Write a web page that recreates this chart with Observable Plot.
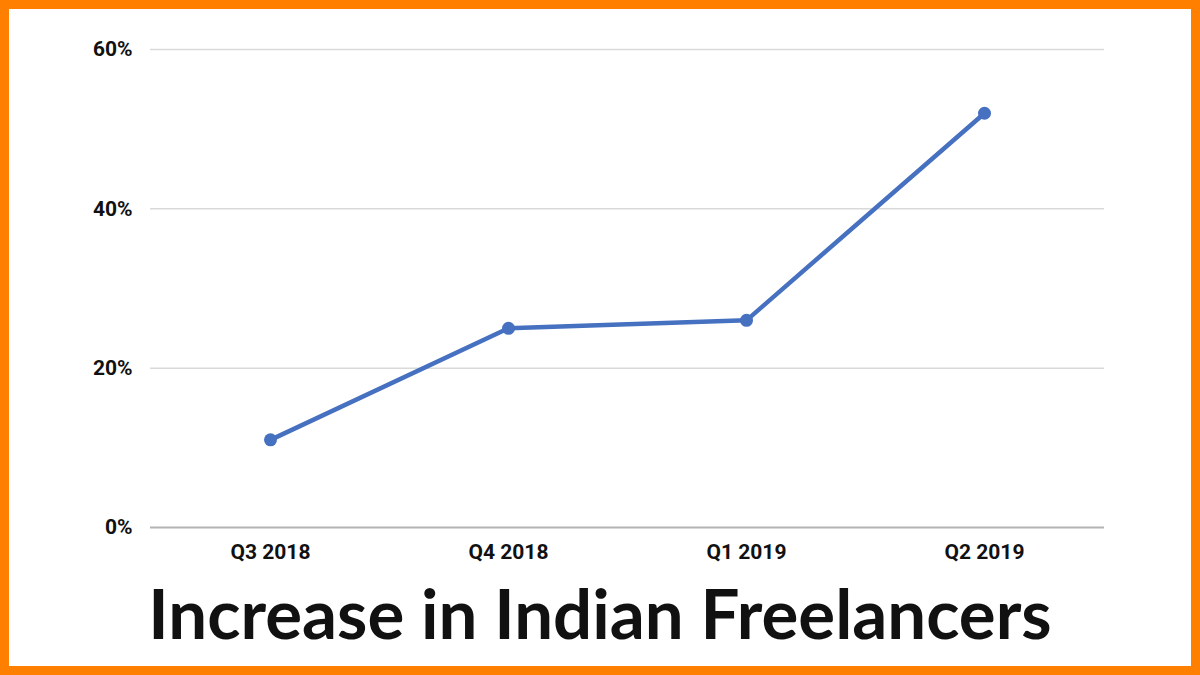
<!DOCTYPE html>
<html>
<head>
<meta charset="utf-8">
<script src="https://cdn.jsdelivr.net/npm/d3@7"></script>
<script src="https://cdn.jsdelivr.net/npm/@observablehq/plot@0.6"></script>
<style>
  html, body { margin: 0; padding: 0; background: #fff; }
  #frame {
    width: 1200px; height: 675px; box-sizing: border-box;
    border: 9px solid #FF7F00; background: #fff; position: relative; overflow: hidden;
  }
  #title {
    position: absolute; left: 0; right: 0; top: 564px; text-align: center;
    font-family: Lato, "Open Sans", sans-serif; font-weight: 700; font-size: 69px;
    color: #111; line-height: 80px; letter-spacing: 0px;
  }
  svg text { font-family: Roboto, "Noto Sans", sans-serif; }
</style>
</head>
<body>
<div id="frame">
  <div id="chart"></div>
  <div id="title">Increase in Indian Freelancers</div>
</div>
<script>
const quarters = ["Q3 2018", "Q4 2018", "Q1 2019", "Q2 2019"];
const growth = [11, 25, 26, 52];
const yTicks = [0, 20, 40, 60];

const data = quarters.map((q, i) => ({quarter: q, value: growth[i]}));

const plot = Plot.plot({
  width: 1182,
  height: 560,
  marginLeft: 141,
  marginRight: 87,
  marginTop: 40,
  marginBottom: 42,
  style: {background: "#fff", fontSize: "21px", color: "#111"},
  x: {domain: quarters, type: "point", padding: 0.5, label: null, tickSize: 0},
  y: {domain: [0, 60], ticks: yTicks, tickFormat: d => d + "%", label: null, tickSize: 0},
  marks: [
    Plot.gridY(yTicks.filter(t => t > 0), {stroke: "#d9d9d9", strokeOpacity: 1, strokeWidth: 1.5}),
    Plot.ruleY([0], {stroke: "#b3b3b3", strokeWidth: 2}),
    Plot.axisX({tickSize: 0, tickPadding: 17, fontWeight: 700, fontSize: 21}),
    Plot.axisY({ticks: yTicks, tickFormat: d => d + "%", tickSize: 0, tickPadding: 18, fontWeight: 700, fontSize: 21}),
    Plot.line(data, {x: "quarter", y: "value", stroke: "#4670C0", strokeWidth: 4.5}),
    Plot.dot(data, {x: "quarter", y: "value", fill: "#4670C0", r: 6.5})
  ]
});
document.getElementById("chart").appendChild(plot);
</script>
</body>
</html>
